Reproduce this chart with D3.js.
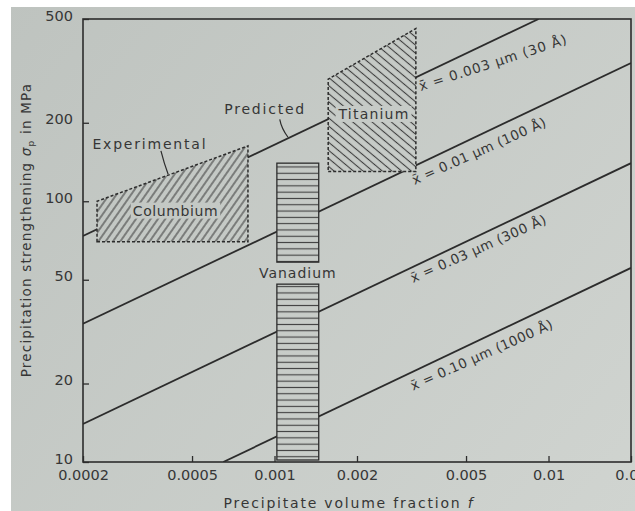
<!DOCTYPE html>
<html>
<head>
<meta charset="utf-8">
<script src="https://cdn.jsdelivr.net/npm/d3@7/dist/d3.min.js"></script>
<style>
  html, body { margin: 0; padding: 0; background: #ffffff; }
  svg { display: block; }
  text { font-family: "DejaVu Sans", sans-serif; fill: #363636; }
</style>
</head>
<body>
<svg id="chart" width="635" height="511"></svg>
<script>
// Axis ticks
const fTicks = [0.0002, 0.0005, 0.001, 0.002, 0.005, 0.01, 0.02];
const fTickLabels = ["0.0002", "0.0005", "0.001", "0.002", "0.005", "0.01", "0.02"];
const sigmaTicks = [10, 20, 50, 100, 200, 500];
const sigmaTickLabels = ["10", "20", "50", "100", "200", "500"];

// Predicted strengthening lines, one per mean particle size (end points)
const sizeLabels = ["x\u0304 = 0.003 \u00b5m  (30 \u00c5)", "x\u0304 = 0.01 \u00b5m  (100 \u00c5)",
                    "x\u0304 = 0.03 \u00b5m  (300 \u00c5)", "x\u0304 = 0.10 \u00b5m  (1000 \u00c5)"];
const lineStartF = [0.0002, 0.0002, 0.0002, 0.00065];
const lineStartS = [73.6, 33.9, 14.0, 10];
const lineEndF   = [0.0092, 0.02, 0.02, 0.02];
const lineEndS   = [500, 339, 140, 55.5];

// Experimental bands
const alloys        = ["Columbium", "Titanium", "Vanadium"];
const alloyFMin     = [0.000225, 0.00157, 0.00102];
const alloyFMax     = [0.0008, 0.00328, 0.00145];
const alloySMin     = [70, 130, 10];
const alloySMaxLeft = [100, 294, 140];
const alloySMaxRight= [163, 460, 140];

const W = 635, H = 511;
const plot = { left: 83, right: 631, top: 19, bottom: 462 };
const ink = "#2c2c2c";
const svg = d3.select("#chart");

const x = d3.scaleLog().domain([0.0002, 0.02]).range([plot.left, plot.right]);
const y = d3.scaleLog().domain([10, 500]).range([plot.bottom, plot.top]);

// Paper background
const defs = svg.append("defs");
const grad = defs.append("linearGradient").attr("id", "paper")
  .attr("gradientUnits", "userSpaceOnUse")
  .attr("x1", 0).attr("y1", 0).attr("x2", W).attr("y2", H);
grad.append("stop").attr("offset", "0%").attr("stop-color", "#bec3bf");
grad.append("stop").attr("offset", "100%").attr("stop-color", "#d0d4d0");
const paper = "url(#paper)";

svg.append("rect").attr("x", 11).attr("y", 7).attr("width", W - 11).attr("height", H - 7)
  .attr("fill", paper);

// Hatch patterns
function hatch(id, size, angle, horizontal) {
  const p = defs.append("pattern").attr("id", id)
    .attr("patternUnits", "userSpaceOnUse")
    .attr("width", horizontal ? 10 : size).attr("height", horizontal ? size : 10)
    .attr("patternTransform", `rotate(${angle})`);
  if (horizontal) {
    p.append("line").attr("x1", 0).attr("y1", size / 2).attr("x2", 10).attr("y2", size / 2);
  } else {
    p.append("line").attr("x1", size / 2).attr("y1", 0).attr("x2", size / 2).attr("y2", 10);
  }
  p.selectAll("line").attr("stroke", "#3e3e3e").attr("stroke-width", 1.1);
}
hatch("hatch-cb", 6, 35, false);
hatch("hatch-ti", 6.2, 40, true);
hatch("hatch-v", 6.3, 0, true);

defs.append("clipPath").attr("id", "plot-clip").append("rect")
  .attr("x", plot.left).attr("y", plot.top)
  .attr("width", plot.right - plot.left).attr("height", plot.bottom - plot.top);

// Predicted lines
const lineGen = d3.line().x(d => x(d[0])).y(d => y(d[1]));
const lines = d3.range(sizeLabels.length).map(i => [[lineStartF[i], lineStartS[i]], [lineEndF[i], lineEndS[i]]]);
svg.append("g").attr("clip-path", "url(#plot-clip)")
  .selectAll("path").data(lines).join("path")
  .attr("d", lineGen).attr("fill", "none").attr("stroke", ink).attr("stroke-width", 1.8);

function lineValue(i, f) {
  const t = Math.log(f / lineStartF[i]) / Math.log(lineEndF[i] / lineStartF[i]);
  return lineStartS[i] * Math.pow(lineEndS[i] / lineStartS[i], t);
}

// Experimental bands (Columbium and Titanium: dashed outlines)
const bandPts = i => [
  [alloyFMin[i], alloySMin[i]], [alloyFMax[i], alloySMin[i]],
  [alloyFMax[i], alloySMaxRight[i]], [alloyFMin[i], alloySMaxLeft[i]]];
const closed = d3.line().x(d => x(d[0])).y(d => y(d[1]));
[0, 1].forEach(i => {
  const d = closed(bandPts(i)) + "Z";
  svg.append("path").attr("d", d).attr("fill", paper);
  svg.append("path").attr("d", d).attr("fill", i === 0 ? "url(#hatch-cb)" : "url(#hatch-ti)");
  svg.append("path").attr("d", d).attr("fill", "none").attr("stroke", ink)
    .attr("stroke-width", 1.5).attr("stroke-dasharray", "3,2");
});

// Vanadium band, split around its label
const vLabelS = 53;
const vx0 = x(alloyFMin[2]), vx1 = x(alloyFMax[2]);
const vGap = [y(vLabelS) - 11, y(vLabelS) + 11];
[[y(alloySMaxLeft[2]), vGap[0]], [vGap[1], y(alloySMin[2]) - 2]].forEach(([a, b]) => {
  svg.append("rect").attr("x", vx0).attr("y", a).attr("width", vx1 - vx0).attr("height", b - a)
    .attr("fill", paper);
  svg.append("rect").attr("x", vx0).attr("y", a).attr("width", vx1 - vx0).attr("height", b - a)
    .attr("fill", "url(#hatch-v)").attr("stroke", ink).attr("stroke-width", 1.3);
});

// Band labels with cleared background
function label(txt, cx, cy, size, spacing) {
  const t = svg.append("text").attr("x", cx).attr("y", cy).attr("dy", "0.35em")
    .attr("text-anchor", "middle").attr("font-size", size)
    .attr("letter-spacing", spacing).text(txt);
  return t;
}
function clearedLabel(txt, cx, cy, size, spacing) {
  const t = label(txt, cx, cy, size, spacing);
  const bb = t.node().getBBox();
  svg.insert("rect", () => t.node())
    .attr("x", bb.x - 2).attr("y", bb.y).attr("width", bb.width + 4).attr("height", bb.height)
    .attr("fill", paper);
}
const geo = (a, b) => Math.sqrt(a * b);
clearedLabel(alloys[0], x(geo(alloyFMin[0], alloyFMax[0])) + 3, y(92), 14, 0.6);
clearedLabel(alloys[1], x(geo(alloyFMin[1], alloyFMax[1])) + 2, y(216), 14, 1.2);
label(alloys[2], (vx0 + vx1) / 2, y(vLabelS), 14, 1.0);

// Experimental / Predicted callouts
label("Experimental", x(0.000351), y(166), 14, 1.8);
label("Predicted", x(0.000924), y(226), 14, 1.8);
svg.append("path")
  .attr("d", `M${x(0.000385)},${y(156)} Q${x(0.000395)},${y(140)} ${x(0.000409)},${y(127)}`)
  .attr("fill", "none").attr("stroke", ink).attr("stroke-width", 1.2);
svg.append("path")
  .attr("d", `M${x(0.001045)},${y(206)} Q${x(0.00106)},${y(190)} ${x(0.00112)},${y(176)}`)
  .attr("fill", "none").attr("stroke", ink).attr("stroke-width", 1.2);

// Size labels running along the predicted lines
const sizeLabelF = [0.00342, 0.00324, 0.0032, 0.0032];
const sizeLabelDy = [16, 19, 16, 19];
const sizeLabelRot = [-18, -24, -24, -24];
const sizeLabelSpacing = [0.9, 0.4, 0.5, 0.4];
sizeLabels.forEach((s, i) => {
  const px = x(sizeLabelF[i]);
  const py = y(lineValue(i, sizeLabelF[i])) + sizeLabelDy[i];
  svg.append("text").attr("transform", `translate(${px},${py}) rotate(${sizeLabelRot[i]})`)
    .attr("font-size", 13.5).attr("letter-spacing", sizeLabelSpacing[i]).text(s);
});

// Axes
const xAxis = d3.axisBottom(x).tickValues(fTicks).tickFormat((d, i) => fTickLabels[i])
  .tickSizeInner(-6).tickSizeOuter(0).tickPadding(8);
const yAxis = d3.axisLeft(y).tickValues(sigmaTicks).tickFormat((d, i) => sigmaTickLabels[i])
  .tickSizeInner(-6).tickSizeOuter(0).tickPadding(10);

const gx = svg.append("g").attr("transform", `translate(0,${plot.bottom})`).call(xAxis);
const gy = svg.append("g").attr("transform", `translate(${plot.left},0)`).call(yAxis);
[gx, gy].forEach(g => {
  g.select(".domain").remove();
  g.selectAll(".tick line").attr("stroke", ink).attr("stroke-width", 1.3);
  g.selectAll(".tick text").attr("font-family", "DejaVu Sans").attr("font-size", 14.5)
    .attr("fill", "#3a3a3a");
});
gy.selectAll(".tick text").attr("dy", "0.08em");

// Frame
svg.append("rect").attr("x", plot.left).attr("y", plot.top)
  .attr("width", plot.right - plot.left).attr("height", plot.bottom - plot.top)
  .attr("fill", "none").attr("stroke", ink).attr("stroke-width", 1.6);

// Axis titles
svg.append("text").attr("x", 349).attr("y", 508)
  .attr("text-anchor", "middle").attr("font-size", 14).attr("letter-spacing", 1.8)
  .text("Precipitate volume fraction ")
  .append("tspan").attr("font-style", "italic").text("f");

const yt = svg.append("text").attr("transform", "translate(31,230) rotate(-90)")
  .attr("text-anchor", "middle").attr("font-size", 13.5).attr("letter-spacing", 1.2);
yt.append("tspan").text("Precipitation strengthening ");
yt.append("tspan").attr("font-style", "italic").text("\u03c3");
yt.append("tspan").attr("font-size", 9).attr("dy", 3).text("p");
yt.append("tspan").attr("dy", -3).text(" in MPa");
</script>
</body>
</html>
